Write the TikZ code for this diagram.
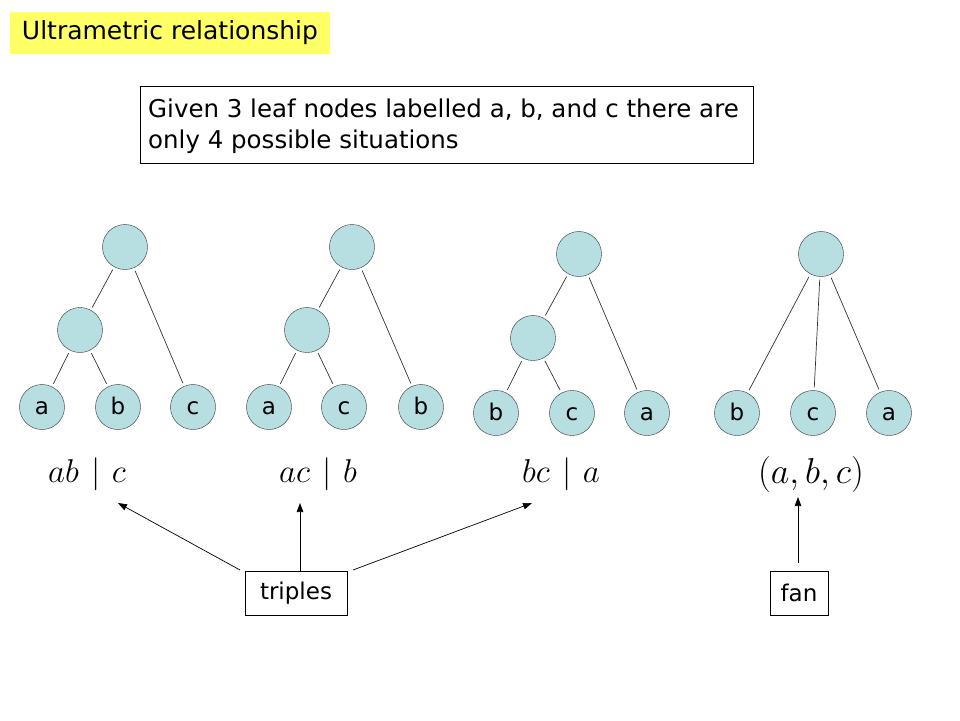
\RequirePackage{fix-cm}
\documentclass[tikz,border=0pt]{standalone}
\usepackage{fontspec}
\setmainfont{DejaVu Sans}
\usetikzlibrary{arrows.meta}
\definecolor{nodeblue}{RGB}{183,222,225}
\definecolor{titleyellow}{RGB}{255,255,102}
\newcommand{\barsep}{\mskip 7mu\Big|\mskip 6mu}
\tikzset{
  tn/.style={circle, draw=black!80, fill=nodeblue, minimum size=45pt, inner sep=0pt, text height=14pt, text depth=0pt, font=\fontsize{23}{26}\selectfont},
  edge/.style={draw=black!80, line width=0.7pt, shorten <=3pt, shorten >=3pt},
  boxlabel/.style={draw, line width=0.6pt, inner sep=0pt, font=\fontsize{23}{26}\selectfont},
  mathlabel/.style={font=\fontsize{33}{40}\selectfont, inner sep=0pt},
  arr/.style={-{Triangle[length=9pt,width=6.5pt]}, line width=0.7pt}
}
\begin{document}
\begin{tikzpicture}[x=1pt,y=-1pt]
\useasboundingbox (0,0) rectangle (960,720);
\fill[white] (0,0) rectangle (960,720);
% title
\node[fill=titleyellow, minimum width=320pt, minimum height=42pt, inner sep=0pt, font=\fontsize{25}{28}\selectfont] (title) at (170,33) {Ultrametric relationship};
% given box
\node[draw, line width=0.6pt, minimum width=613pt, minimum height=77pt, inner sep=0pt] (given) at (446.5,124.5) {};
\node[anchor=base west, align=left, inner sep=0pt, font=\fontsize{24.5}{31}\selectfont] (giventext) at (148,148) {Given 3 leaf nodes labelled a, b, and c there are\\only 4 possible situations};
% tree 1
\node[tn] (r1) at (125,247) {};
\node[tn] (m1) at (80,330) {};
\node[tn] (a1) at (42,407) {a};
\node[tn] (b1) at (118,407) {b};
\node[tn] (c1) at (193,407) {c};
\draw[edge] (r1) -- (m1); \draw[edge] (r1) -- (c1);
\draw[edge] (m1) -- (a1); \draw[edge] (m1) -- (b1);
% tree 2
\node[tn] (r2) at (352,247) {};
\node[tn] (m2) at (307,330) {};
\node[tn] (a2) at (269,407) {a};
\node[tn] (c2) at (344,407) {c};
\node[tn] (b2) at (421,407) {b};
\draw[edge] (r2) -- (m2); \draw[edge] (r2) -- (b2);
\draw[edge] (m2) -- (a2); \draw[edge] (m2) -- (c2);
% tree 3
\node[tn] (r3) at (579,254) {};
\node[tn] (m3) at (533,338) {};
\node[tn] (b3) at (496,413) {b};
\node[tn] (c3) at (572,413) {c};
\node[tn] (a3) at (647,413) {a};
\draw[edge] (r3) -- (m3); \draw[edge] (r3) -- (a3);
\draw[edge] (m3) -- (b3); \draw[edge] (m3) -- (c3);
% tree 4
\node[tn] (r4) at (821,254) {};
\node[tn] (b4) at (737,413) {b};
\node[tn] (c4) at (813,413) {c};
\node[tn] (a4) at (889,413) {a};
\draw[edge] (r4) -- (b4); \draw[edge] (r4) -- (c4); \draw[edge] (r4) -- (a4);
% math labels
\node[mathlabel] (l1) at (87,474) {$ab\barsep c$};
\node[mathlabel] (l2) at (318,474) {$ac\barsep b$};
\node[mathlabel] (l3) at (561,474) {$bc\barsep a$};
\node[mathlabel, font=\fontsize{36}{42}\selectfont] (l4) at (811,474) {$(a,b,c)$};
% bottom boxes
\node[boxlabel, minimum width=102pt, minimum height=44pt] (triples) at (296,593) {triples};
\node[boxlabel, minimum width=58pt, minimum height=44pt] (fan) at (799,593) {fan};
\coordinate (t1) at (118,503);
\coordinate (t2) at (300,503);
\coordinate (t3) at (532,503);
\coordinate (t4) at (798,497);
\coordinate (s1) at (240,570);
\coordinate (s2) at (300,571);
\coordinate (s3) at (353,570);
\coordinate (s4) at (798,563);
\draw[arr] (s1) -- (t1);
\draw[arr] (s2) -- (t2);
\draw[arr] (s3) -- (t3);
\draw[arr] (s4) -- (t4);
\end{tikzpicture}
\end{document}
